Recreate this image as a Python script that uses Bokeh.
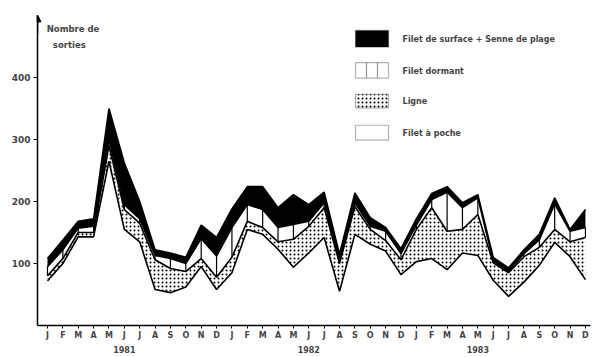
import numpy as np
from bokeh.plotting import figure
from bokeh.models import FixedTicker, LinearAxis, Label, Range1d, BoxAnnotation, Arrow, NormalHead
from bokeh.embed import file_html
from bokeh.resources import INLINE

month_labels = ["J", "F", "M", "A", "M", "J", "J", "A", "S", "O", "N", "D"] * 3
years = ["1981", "1982", "1983"]
year_positions = [5, 17, 28]   # month index under which each year label sits

# Number of outings per month and gear type (stacked, bottom to top)
poche = [72, 100, 143, 143, 265, 155, 135, 58, 53, 62, 95, 58,
         85, 155, 147, 123, 94, 117, 142, 55, 147, 131, 120, 82,
         103, 108, 90, 117, 113, 73, 47, 70, 97, 134, 111, 74]
ligne = [8, 8, 7, 7, 25, 32, 30, 48, 39, 25, 13, 20,
         25, 13, 11, 12, 45, 43, 48, 45, 45, 24, 17, 24,
         52, 82, 62, 38, 66, 28, 38, 41, 29, 21, 24, 68]
dormant = [15, 14, 7, 10, 10, 8, 7, 7, 16, 13, 32, 34,
           48, 27, 29, 23, 24, 8, 8, 4, 6, 5, 15, 10,
           7, 13, 63, 35, 27, 3, 2, 5, 12, 41, 17, 16]
surface = [13, 16, 11, 12, 50, 67, 28, 9, 9, 10, 22, 30,
           30, 29, 37, 32, 48, 27, 17, 11, 16, 14, 6, 8,
           10, 10, 9, 8, 5, 6, 6, 6, 9, 10, 3, 29]

x = np.arange(len(month_labels))
c1 = np.array(poche, dtype=float)
c2 = c1 + np.array(ligne)
c3 = c2 + np.array(dormant)
c4 = c3 + np.array(surface)

FONT = "DejaVu Sans"

p = figure(width=600, height=357, output_backend="svg", toolbar_location=None,
           x_range=Range1d(-0.65, 35.33), y_range=Range1d(0, 500),
           min_border_left=37, min_border_right=10, min_border_top=15, min_border_bottom=31,
           x_axis_type=None, y_axis_type=None)
p.outline_line_color = None
p.background_fill_color = "white"
p.border_fill_color = "white"

# areas
p.varea(x=x, y1=c1, y2=c2, fill_color="white", hatch_pattern="dot",
        hatch_color="black", hatch_scale=4, hatch_weight=1.3)
p.varea(x=x, y1=c2, y2=c3, fill_color="white")
p.segment(x0=x, y0=c2, x1=x, y1=c3, line_color="black", line_width=1.2)
p.varea(x=x, y1=c3, y2=c4, fill_color="black")
for c in (c1, c2, c3, c4):
    p.line(x, c, line_color="black", line_width=1.6)

# y axis
yax = LinearAxis(ticker=FixedTicker(ticks=[100, 200, 300, 400]))
yax.minor_tick_line_color = None
yax.major_tick_out = 4
yax.major_tick_in = 0
yax.axis_line_width = 1.5
yax.major_label_text_font = FONT
yax.major_label_text_font_style = "bold"
yax.major_label_text_font_size = "9px"
yax.major_label_standoff = 3
p.add_layout(yax, "left")

# x axis (months, with the year under the middle of each year)
overrides = {i: m for i, m in enumerate(month_labels)}
for yl, idx in zip(years, year_positions):
    overrides[idx] = month_labels[idx] + "\n" + yl
xax = LinearAxis(ticker=FixedTicker(ticks=list(range(len(month_labels)))))
xax.major_label_overrides = overrides
xax.minor_tick_line_color = None
xax.major_tick_out = 3
xax.major_tick_in = 0
xax.axis_line_width = 1.5
xax.major_label_text_font = FONT
xax.major_label_text_font_style = "bold"
xax.major_label_text_font_size = "8px"
xax.major_label_text_line_height = 1.7
xax.major_label_standoff = 2
p.add_layout(xax, "below")

# axis arrow
p.add_layout(Arrow(end=NormalHead(size=7, fill_color="black", line_color="black"),
                   x_start=-0.65, y_start=470, x_end=-0.65, y_end=501,
                   line_color="black", line_width=1.5))

# axis title
for txt, xx, yy in [("Nombre de", -0.05, 479), ("sorties", 0.35, 452)]:
    p.add_layout(Label(x=xx, y=yy, text=txt, text_font=FONT, text_font_style="bold",
                       text_font_size="8.5px", text_baseline="middle"))

# legend boxes
bx0, bx1 = 20.04, 22.19
p.add_layout(BoxAnnotation(left=bx0, right=bx1, bottom=449, top=476,
                           fill_color="black", fill_alpha=1, line_color="black", line_width=1.2))
w = (bx1 - bx0) / 3
for k in range(3):
    p.add_layout(BoxAnnotation(left=bx0 + k * w, right=bx0 + (k + 1) * w, bottom=399, top=424,
                               fill_color="white", fill_alpha=1, line_color="black", line_width=1.2))
p.add_layout(BoxAnnotation(left=bx0, right=bx1, bottom=351, top=373,
                           fill_color="white", fill_alpha=1, line_color="black", line_width=1.2,
                           hatch_pattern="dot", hatch_color="black", hatch_scale=4, hatch_weight=1.3))
p.add_layout(BoxAnnotation(left=bx0, right=bx1, bottom=299, top=323,
                           fill_color="white", fill_alpha=1, line_color="black", line_width=1.2))

legend_texts = ["Filet de surface + Senne de plage", "Filet dormant", "Ligne", "Filet \u00e0 poche"]
for txt, yy in zip(legend_texts, [461, 410, 362, 310]):
    p.add_layout(Label(x=23.1, y=yy, text=txt, text_font=FONT, text_font_style="bold",
                       text_font_size="8px", text_baseline="middle"))

open("out.html", "w").write(file_html(p, INLINE))
